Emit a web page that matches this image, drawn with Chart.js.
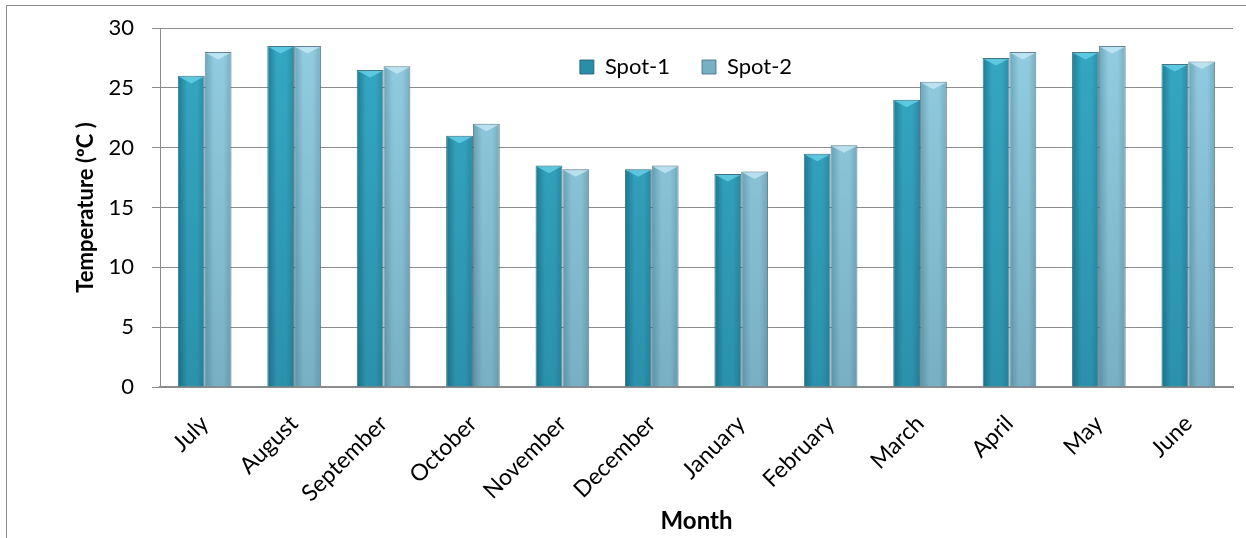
<!DOCTYPE html>
<html>
<head>
<meta charset="utf-8">
<title>Temperature by month</title>
<script src="https://cdn.jsdelivr.net/npm/chart.js@4/dist/chart.umd.min.js"></script>
<style>
  html, body { margin: 0; padding: 0; background: #fff; overflow: hidden; }
  #frame { position: absolute; left: 6px; top: 5px; width: 1300px; height: 600px; border: 1px solid #8c8c8c; }
  #wrap { position: absolute; left: 0; top: 0; width: 1246px; height: 538px; }
</style>
</head>
<body>
<div id="frame"></div>
<div id="wrap"><canvas id="tempChart"></canvas></div>
<script>
// 월별 온도 — Spot-1 / Spot-2 막대 차트
const MONTHS = ["July", "August", "September", "October", "November", "December",
  "January", "February", "March", "April", "May", "June"];
const SPOT1 = [26.0, 28.5, 26.5, 21.0, 18.5, 18.2, 17.8, 19.5, 24.0, 27.5, 28.0, 27.0];
const SPOT2 = [28.0, 28.5, 26.8, 22.0, 18.2, 18.5, 18.0, 20.2, 25.5, 28.0, 28.5, 27.2];
const Y_TICKS = [0, 5, 10, 15, 20, 25, 30];

const CAT_PCT = 0.6;
const FONT = "Lato, 'Open Sans', sans-serif";
const LEGEND_PAD = 32;
const LEGEND_CX = 686, LEGEND_CY = 68;

// 막대마다 가로 방향 원통형 그라디언트
function barFill(cols) {
  return function (c) {
    const chart = c.chart, xs = chart.scales.x;
    if (!chart.chartArea || !xs || c.dataIndex === undefined) return cols[1];
    const center = xs.getPixelForValue(c.dataIndex);
    const w = xs.width / MONTHS.length * CAT_PCT / 2;
    const x0 = c.datasetIndex === 0 ? center - w : center;
    const g = chart.ctx.createLinearGradient(x0, 0, x0 + w, 0);
    g.addColorStop(0, cols[0]);
    g.addColorStop(0.35, cols[1]);
    g.addColorStop(0.7, cols[1]);
    g.addColorStop(1, cols[2]);
    return g;
  };
}

// 위쪽 삼각 하이라이트와 아래쪽 음영
const bevel = {
  id: "bevel",
  afterDatasetsDraw(chart) {
    const ctx = chart.ctx, area = chart.chartArea;
    ctx.save();
    chart.data.datasets.forEach((ds, di) => {
      chart.getDatasetMeta(di).data.forEach((bar) => {
        const { x, y, base, width } = bar.getProps(["x", "y", "base", "width"], true);
        const l = x - width / 2, r = x + width / 2;
        const shade = ctx.createLinearGradient(0, area.top, 0, base);
        shade.addColorStop(0, "rgba(0,40,60,0)");
        shade.addColorStop(1, "rgba(0,40,60,0.18)");
        ctx.fillStyle = shade;
        ctx.fillRect(l + 1, y, width - 2, base - y);
        ctx.beginPath();
        ctx.moveTo(l + 1, y + 1);
        ctx.lineTo(r - 1, y + 1);
        ctx.lineTo(x, y + width * 0.28);
        ctx.closePath();
        ctx.fillStyle = di === 0 ? "rgba(110,215,238,0.7)" : "rgba(205,236,248,0.7)";
        ctx.fill();
      });
    });
    ctx.restore();
  },
};

// 범례를 플롯 안쪽 위로 옮긴다 (레이아웃 높이는 maxHeight 로 1px 만 차지)
const legendInside = {
  id: "legendInside",
  afterLayout(chart) {
    const lg = chart.legend;
    if (!lg) return;
    const dx = LEGEND_CX - (lg.left + lg.right) / 2;
    lg.left += dx;
    lg.right += dx;
    lg.top = LEGEND_CY - LEGEND_PAD - 12;
    lg.bottom = lg.top + LEGEND_PAD * 2 + 24;
    lg.height = lg.bottom - lg.top;
  },
};

new Chart(document.getElementById("tempChart"), {
  type: "bar",
  data: {
    labels: MONTHS,
    datasets: [
      {
        label: "Spot-1",
        data: SPOT1,
        backgroundColor: barFill(["#1f7d96", "#35a8c4", "#2a8ea8"]),
        borderColor: "rgba(35,95,112,0.85)",
        borderWidth: 1,
        categoryPercentage: CAT_PCT,
        barPercentage: 1.0,
      },
      {
        label: "Spot-2",
        data: SPOT2,
        backgroundColor: barFill(["#6ea7ba", "#93cde1", "#78b0c3"]),
        borderColor: "rgba(70,110,125,0.85)",
        borderWidth: 1,
        categoryPercentage: CAT_PCT,
        barPercentage: 1.0,
      },
    ],
  },
  plugins: [bevel, legendInside],
  options: {
    responsive: true,
    maintainAspectRatio: false,
    animation: false,
    layout: { padding: { left: 60, right: 13, top: 27, bottom: 0 } },
    plugins: {
      legend: {
        position: "top",
        maxHeight: 1,
        labels: {
          font: { family: FONT, size: 22 },
          color: "#000",
          boxWidth: 14,
          boxHeight: 14,
          padding: LEGEND_PAD,
        },
      },
      tooltip: { enabled: false },
    },
    scales: {
      x: {
        grid: { display: false },
        border: { display: true, color: "#8c8c8c", width: 2 },
        ticks: {
          font: { family: FONT, size: 23 },
          color: "#000",
          minRotation: 45,
          maxRotation: 45,
          padding: 15,
        },
        title: {
          display: true,
          text: "Month",
          font: { family: FONT, size: 24, weight: "bold" },
          color: "#000",
          padding: { top: 4, bottom: 2 },
        },
        afterFit: (s) => { s.height = 151; },
      },
      y: {
        min: 0,
        max: 30,
        afterBuildTicks: (s) => { s.ticks = Y_TICKS.map((v) => ({ value: v })); },
        grid: { color: "#8c8c8c", tickLength: 8, lineWidth: 1 },
        border: { display: true, color: "#8c8c8c" },
        ticks: {
          font: { family: FONT, size: 22 },
          color: "#000",
          padding: 18,
        },
        title: {
          display: true,
          text: "Temperature (ºC )",
          font: { family: FONT, size: 22, weight: "bold" },
          color: "#000",
          padding: { top: 13, bottom: 4 },
        },
        afterFit: (s) => { s.width = 100; s.paddingTop = 0; s.paddingBottom = 0; },
      },
    },
  },
});
</script>
</body>
</html>
